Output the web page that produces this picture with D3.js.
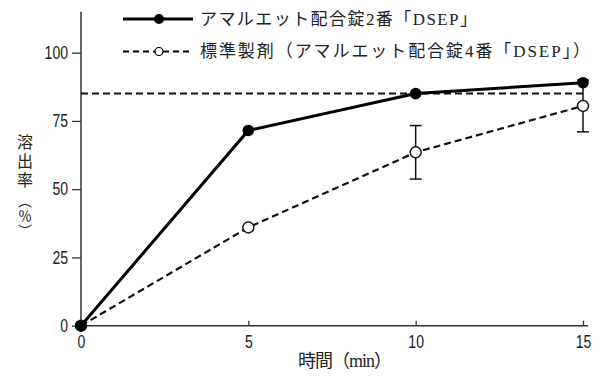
<!DOCTYPE html>
<html>
<head>
<meta charset="utf-8">
<script src="https://cdn.jsdelivr.net/npm/d3@7"></script>
<style>
  body { margin: 0; background: #fff; }
  svg { display: block; }
  .tick text { font-family: "Liberation Sans", Arial, sans-serif; font-size: 18px; fill: #222; }
  .jp { font-family: "Liberation Serif", "Noto Sans CJK JP", serif; fill: #222; }
</style>
</head>
<body>
<div id="chart"></div>
<script>
// time points (min)
const times = [0, 5, 10, 15];
// アマルエット配合錠2番「DSEP」
const testMean = [0, 71.5, 85, 89];
// 標準製剤 (mean, sd)
const refMean = [0, 36, 63.5, 80.5];
const refSd = [0, 0, 9.8, 9.5];
const criterion = 85;

const xTicks = [0, 5, 10, 15];
const yTicks = [0, 25, 50, 75, 100];

const seriesNames = [
  "アマルエット配合錠2番「DSEP」",
  "標準製剤（アマルエット配合錠4番「DSEP」）"
];
const yTitle = ["溶", "出", "率", "︵", "％", "︶"];
const xTitle = "時間（min）";

const width = 601, height = 376;

const svg = d3.select("#chart").append("svg")
  .attr("width", width)
  .attr("height", height);

const x = d3.scaleLinear().domain([0, 15]).range([81, 583]);
const y = d3.scaleLinear().domain([0, 115]).range([325.7, 11.7]);

// axes
const yAxis = d3.axisLeft(y).tickValues(yTicks).tickSizeInner(9).tickSizeOuter(0).tickPadding(4);
const xAxis = d3.axisBottom(x).tickValues(xTicks).tickSizeInner(-5).tickSizeOuter(0).tickPadding(10);

const yAxisG = svg.append("g").attr("transform", `translate(${x(0)},0)`).call(yAxis);
const xAxisG = svg.append("g").attr("transform", `translate(0,${y(0)})`).call(xAxis);
[yAxisG, xAxisG].forEach(g => {
  g.select(".domain").remove();
  g.selectAll(".tick line").attr("stroke", "#333").attr("stroke-width", 1.3);
  // narrow look of the original tick numbers
  g.selectAll(".tick text").each(function () {
    const w = this.getComputedTextLength();
    d3.select(this).attr("textLength", w * 0.78).attr("lengthAdjust", "spacingAndGlyphs");
  });
});
xAxisG.selectAll(".tick").filter(d => d === 0).select("line").remove();

svg.append("line")
  .attr("x1", x(0)).attr("x2", x(0))
  .attr("y1", y(0)).attr("y2", y(115))
  .attr("stroke", "#333").attr("stroke-width", 1.5);
svg.append("line")
  .attr("x1", x(0)).attr("x2", x(15) + 5)
  .attr("y1", y(0)).attr("y2", y(0))
  .attr("stroke", "#333").attr("stroke-width", 1.5);

// criterion line 85%
svg.append("line")
  .attr("x1", x(0)).attr("x2", x(15))
  .attr("y1", y(criterion)).attr("y2", y(criterion))
  .attr("stroke", "#111").attr("stroke-width", 2)
  .attr("stroke-dasharray", "7,4");

const line = d3.line().x(d => x(d[0])).y(d => y(d[1]));

const refData = times.map((t, i) => [t, refMean[i], refSd[i]]);
const testData = times.map((t, i) => [t, testMean[i]]);

// error bars (reference product)
const eb = svg.append("g").selectAll("g")
  .data(refData.filter(d => d[2] > 0))
  .join("g")
  .attr("stroke", "#111").attr("stroke-width", 1.5);
eb.append("line")
  .attr("x1", d => x(d[0])).attr("x2", d => x(d[0]))
  .attr("y1", d => y(d[1] - d[2])).attr("y2", d => y(d[1] + d[2]));
eb.append("line")
  .attr("x1", d => x(d[0]) - 6).attr("x2", d => x(d[0]) + 6)
  .attr("y1", d => y(d[1] - d[2])).attr("y2", d => y(d[1] - d[2]));
eb.append("line")
  .attr("x1", d => x(d[0]) - 6).attr("x2", d => x(d[0]) + 6)
  .attr("y1", d => y(d[1] + d[2])).attr("y2", d => y(d[1] + d[2]));

// reference product line
svg.append("path")
  .datum(refData)
  .attr("d", line)
  .attr("fill", "none")
  .attr("stroke", "#111").attr("stroke-width", 2.2)
  .attr("stroke-dasharray", "7,4");

svg.append("g").selectAll("circle")
  .data(refData)
  .join("circle")
  .attr("cx", d => x(d[0])).attr("cy", d => y(d[1]))
  .attr("r", 5.5)
  .attr("fill", "#fff").attr("stroke", "#111").attr("stroke-width", 1.5);

// test product line
svg.append("path")
  .datum(testData)
  .attr("d", line)
  .attr("fill", "none")
  .attr("stroke", "#000").attr("stroke-width", 3);

svg.append("g").selectAll("circle")
  .data(testData)
  .join("circle")
  .attr("cx", d => x(d[0])).attr("cy", d => y(d[1]))
  .attr("r", 5.8)
  .attr("fill", "#000");

// legend
const legend = svg.append("g");
const legendRows = [
  { name: seriesNames[0], ly: 19, solid: true, tl: 277 },
  { name: seriesNames[1], ly: 51.5, solid: false, tl: 390 }
];
legendRows.forEach(r => {
  legend.append("line")
    .attr("x1", 123).attr("x2", 193)
    .attr("y1", r.ly).attr("y2", r.ly)
    .attr("stroke", "#000")
    .attr("stroke-width", r.solid ? 3 : 2)
    .attr("stroke-dasharray", r.solid ? null : "6,4");
  legend.append("circle")
    .attr("cx", 159).attr("cy", r.ly)
    .attr("r", r.solid ? 4.5 : 4)
    .attr("fill", r.solid ? "#000" : "#fff")
    .attr("stroke", "#000").attr("stroke-width", 1.2);
  legend.append("text")
    .attr("class", "jp")
    .attr("x", 200).attr("y", r.ly)
    .attr("dominant-baseline", "central")
    .attr("font-size", 17)
    .attr("textLength", r.tl)
    .attr("lengthAdjust", "spacing")
    .text(r.name);
});

// y title: one text, stacked one glyph per row
const yTitleY = [142, 161, 180, 201, 216, 231];
svg.append("text")
  .attr("class", "jp")
  .attr("text-anchor", "middle")
  .attr("dominant-baseline", "central")
  .attr("font-size", 16)
  .selectAll("tspan")
  .data(yTitle)
  .join("tspan")
  .attr("x", 25)
  .attr("y", (d, i) => yTitleY[i])
  .attr("font-size", (d, i) => (i >= 3 ? 14 : null))
  .text(d => d);

svg.append("text")
  .attr("class", "jp")
  .attr("x", 298).attr("y", 361)
  .attr("dominant-baseline", "central")
  .attr("font-size", 18)
  .attr("textLength", 94)
  .attr("lengthAdjust", "spacing")
  .text(xTitle);
</script>
</body>
</html>
